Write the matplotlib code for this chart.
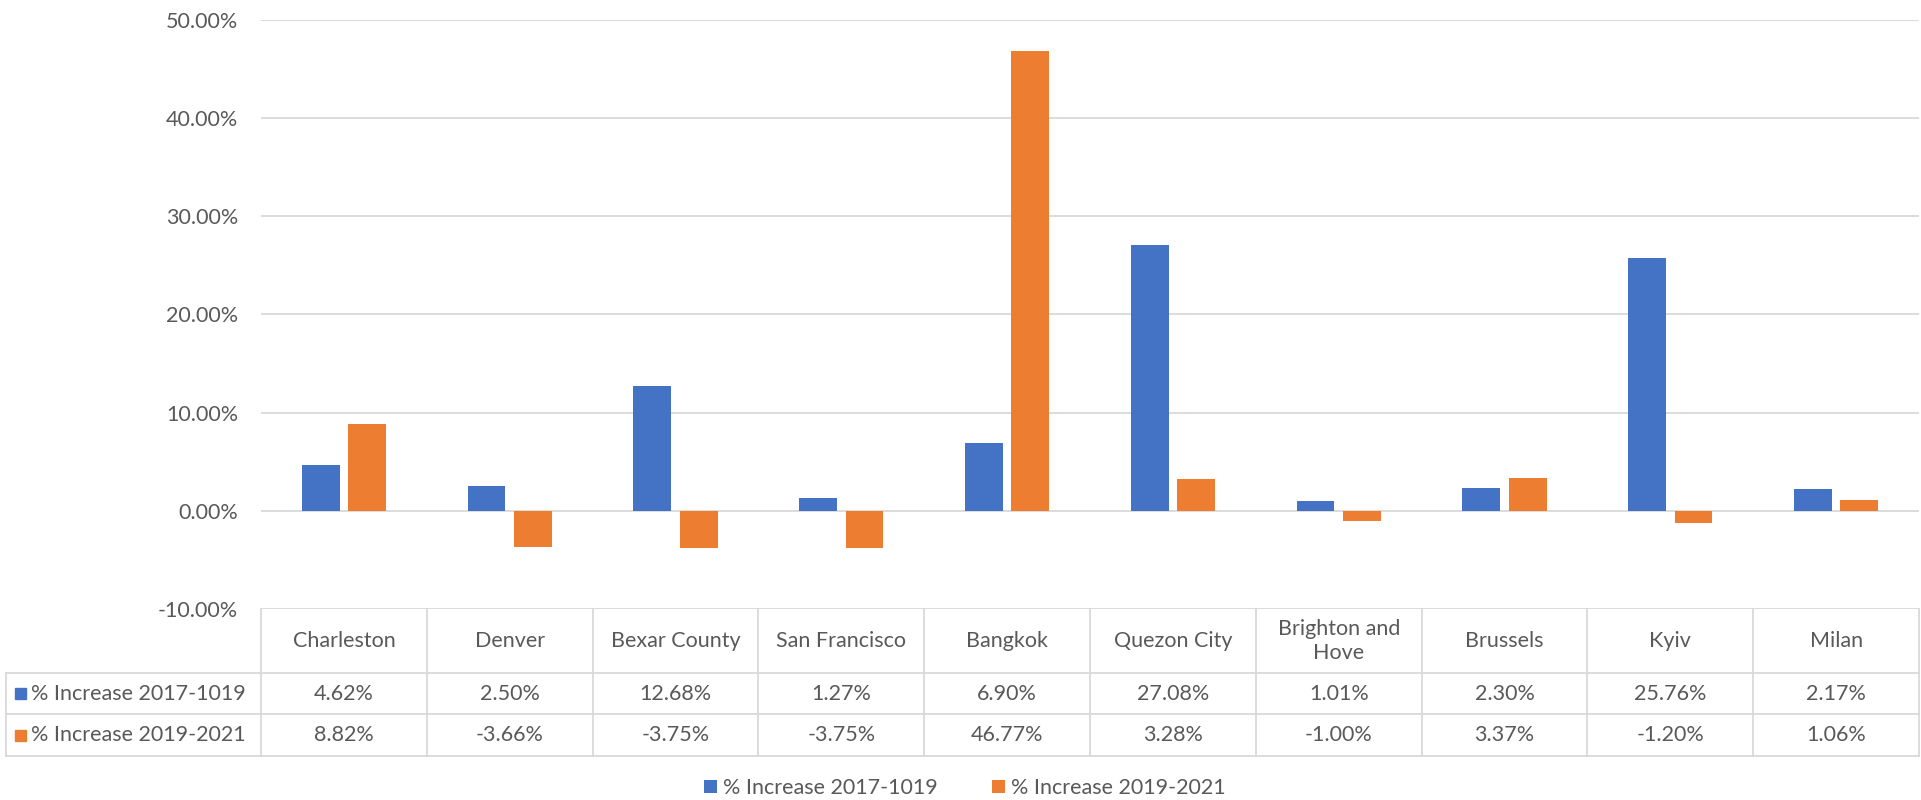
import matplotlib.pyplot as plt
import numpy as np
from matplotlib.lines import Line2D
from matplotlib.patches import Rectangle

cities = ["Charleston", "Denver", "Bexar County", "San Francisco", "Bangkok",
          "Quezon City", "Brighton and\nHove", "Brussels", "Kyiv", "Milan"]
inc_17_19 = [4.62, 2.50, 12.68, 1.27, 6.90, 27.08, 1.01, 2.30, 25.76, 2.17]
inc_19_21 = [8.82, -3.66, -3.75, -3.75, 46.77, 3.28, -1.00, 3.37, -1.20, 1.06]
series_names = ["% Increase 2017-1019", "% Increase 2019-2021"]
yticks = [-10, 0, 10, 20, 30, 40, 50]

blue = "#4472C4"
orange = "#ED7D31"
grid = "#D9D9D9"
txt = "#595959"
fs = 15.5

plt.rcParams['font.family'] = ['Lato', 'DejaVu Sans']
W, H = 1921, 800
fig = plt.figure(figsize=(W / 100, H / 100), dpi=100)

# plot area in pixels
left, right, top, bottom = 261, 1919, 19.6, 609
ax = fig.add_axes([left / W, 1 - bottom / H, (right - left) / W, (bottom - top) / H])

x = np.arange(len(cities))
bw = 0.228
ax.bar(x - 0.14, inc_17_19, bw, color=blue, label=series_names[0])
ax.bar(x + 0.14, inc_19_21, bw, color=orange, label=series_names[1])
ax.set_xlim(-0.5, len(cities) - 0.5)
ax.set_ylim(-10, 50)
ax.set_yticks(yticks)
ax.set_yticklabels([f"{v:.2f}%" for v in yticks])
ax.yaxis.grid(True, color=grid, lw=1.3)
ax.set_axisbelow(True)
for s in ax.spines.values():
    s.set_visible(False)
ax.tick_params(axis='y', length=0, pad=16.5, labelsize=fs, labelcolor=txt)
ax.set_xticks([])

# data table below the plot
def fx(px):
    return px / W

def fy(py):
    return 1 - py / H

row_y = [609, 673, 714, 756]
lab_left = 6
col_w = (right - left) / len(cities)

def hline(x0, x1, y):
    fig.add_artist(Line2D([fx(x0), fx(x1)], [fy(y), fy(y)], color=grid, lw=1.3))

def vline(xp, y0, y1):
    fig.add_artist(Line2D([fx(xp), fx(xp)], [fy(y0), fy(y1)], color=grid, lw=1.3))

for y in row_y[1:]:
    hline(lab_left, right, y)
for i in range(len(cities) + 1):
    vline(left + i * col_w, row_y[0], row_y[3])
vline(lab_left, row_y[1], row_y[3])

for i, c in enumerate(cities):
    cx = fx(left + (i + 0.5) * col_w)
    fig.text(cx, fy((row_y[0] + row_y[1]) / 2), c, ha='center', va='center',
             fontsize=fs, color=txt, linespacing=1.2)
    fig.text(cx, fy((row_y[1] + row_y[2]) / 2), f"{inc_17_19[i]:.2f}%",
             ha='center', va='center', fontsize=fs, color=txt)
    fig.text(cx, fy((row_y[2] + row_y[3]) / 2), f"{inc_19_21[i]:.2f}%",
             ha='center', va='center', fontsize=fs, color=txt)

for k, (name, col) in enumerate(zip(series_names, [blue, orange])):
    yc = (row_y[k + 1] + row_y[k + 2]) / 2
    fig.add_artist(Rectangle((fx(15), fy(yc + 5.5)), fx(11), 11 / H, color=col))
    fig.text(fx(31), fy(yc), name, ha='left', va='center', fontsize=fs, color=txt)

fig.legend(loc='center', bbox_to_anchor=(965 / W, fy(788)), ncol=2, frameon=False,
           fontsize=fs, labelcolor=txt, handlelength=0.6, handleheight=0.6,
           handletextpad=0.3, columnspacing=2.5)

fig.savefig("out.png", dpi=100)
